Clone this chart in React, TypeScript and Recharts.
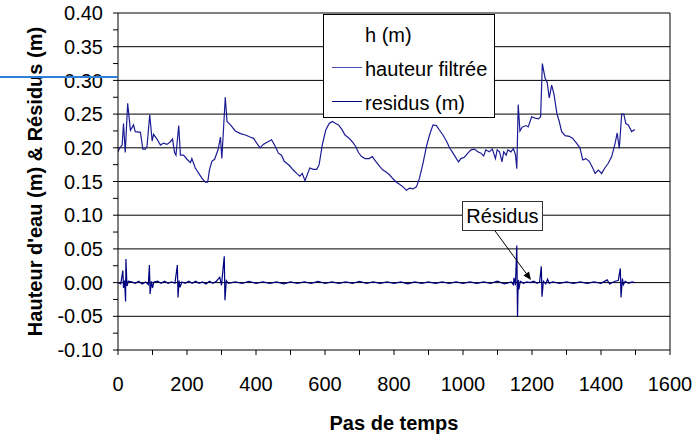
import { LineChart, Line, XAxis, YAxis, CartesianGrid, Legend, ReferenceLine } from 'recharts';

// time steps and filtered water height (m)
const hSteps = [
  0, 5, 12, 16, 21, 28, 36, 45, 50, 65, 72, 79, 84, 92, 99, 103, 113, 123, 132, 142,
  152, 158, 164, 168, 176, 181, 190, 200, 210, 214, 224, 234, 243, 253, 260, 265, 272, 280, 290, 297,
  301, 311, 316, 326, 340, 355, 369, 383, 393, 402, 412, 421, 431, 445, 453, 465, 474, 482, 489, 498,
  508, 518, 527, 534, 542, 550, 556, 566, 576, 583, 592, 602, 612, 621, 631, 639, 648, 658, 668, 679,
  689, 697, 706, 716, 728, 737, 747, 759, 768, 777, 787, 797, 807, 816, 826, 836, 845, 855, 865, 874,
  884, 894, 903, 913, 923, 932, 942, 952, 961, 971, 981, 987, 994, 1004, 1014, 1023, 1033, 1043, 1052, 1060,
  1066, 1076, 1085, 1094, 1099, 1106, 1113, 1118, 1125, 1130, 1139, 1146, 1152, 1156, 1160, 1165, 1172, 1183, 1189, 1199,
  1209, 1219, 1225, 1230, 1238, 1244, 1250, 1257, 1264, 1272, 1279, 1286, 1296, 1308, 1318, 1329, 1339, 1347, 1356, 1366,
  1376, 1383, 1392, 1402, 1411, 1421, 1431, 1441, 1447, 1453, 1460, 1466, 1472, 1479, 1489, 1498,
];
const hValues = [
  0.194, 0.2, 0.204, 0.236, 0.193, 0.266, 0.226, 0.234, 0.224, 0.223, 0.198, 0.198, 0.202, 0.249, 0.21, 0.22, 0.213, 0.204, 0.207, 0.205,
  0.209, 0.213, 0.193, 0.189, 0.233, 0.189, 0.189, 0.183, 0.178, 0.184, 0.17, 0.162, 0.155, 0.149, 0.149, 0.167, 0.18, 0.183, 0.197, 0.216,
  0.184, 0.275, 0.239, 0.234, 0.225, 0.221, 0.219, 0.216, 0.214, 0.207, 0.2, 0.205, 0.208, 0.212, 0.205, 0.192, 0.189, 0.18, 0.177, 0.173,
  0.167, 0.162, 0.158, 0.162, 0.151, 0.162, 0.17, 0.168, 0.168, 0.175, 0.204, 0.226, 0.236, 0.239, 0.236, 0.234, 0.228, 0.219, 0.215, 0.209,
  0.202, 0.193, 0.187, 0.184, 0.184, 0.187, 0.18, 0.172, 0.167, 0.164, 0.16, 0.154, 0.149, 0.146, 0.142, 0.137, 0.14, 0.139, 0.142, 0.155,
  0.177, 0.202, 0.219, 0.234, 0.233, 0.226, 0.219, 0.21, 0.2, 0.192, 0.184, 0.179, 0.184, 0.186, 0.192, 0.197, 0.198, 0.194, 0.192, 0.188,
  0.197, 0.194, 0.198, 0.184, 0.197, 0.194, 0.179, 0.194, 0.189, 0.197, 0.194, 0.199, 0.19, 0.169, 0.264, 0.225, 0.231, 0.233, 0.231, 0.246,
  0.244, 0.243, 0.246, 0.325, 0.303, 0.297, 0.274, 0.293, 0.279, 0.251, 0.239, 0.224, 0.218, 0.217, 0.214, 0.207, 0.2, 0.182, 0.184, 0.18,
  0.17, 0.162, 0.167, 0.162, 0.17, 0.177, 0.187, 0.207, 0.222, 0.199, 0.25, 0.25, 0.236, 0.234, 0.224, 0.227,
];

// residuals (m)
const rSteps = [
  0, 8, 14, 16, 19, 22, 23, 26, 30, 40, 50, 60, 70, 80, 88, 91, 93, 97, 100, 104,
  115, 125, 135, 145, 155, 165, 172, 174, 177, 180, 185, 195, 205, 215, 225, 235, 245, 255, 265, 275,
  285, 295, 300, 308, 310, 314, 320, 340, 360, 380, 400, 420, 440, 460, 480, 500, 520, 540, 560, 580,
  600, 620, 640, 660, 680, 700, 720, 740, 760, 780, 800, 820, 840, 860, 880, 900, 920, 940, 960, 980,
  1000, 1020, 1040, 1060, 1080, 1100, 1120, 1140, 1146, 1148, 1152, 1156, 1158, 1160, 1162, 1166, 1175, 1185, 1195, 1205,
  1215, 1222, 1227, 1229, 1233, 1240, 1245, 1250, 1260, 1280, 1300, 1320, 1340, 1360, 1380, 1400, 1418, 1425, 1440, 1450,
  1456, 1458, 1462, 1465, 1470, 1480, 1490, 1498,
];
const rValues = [
  0, -0.002, 0.018, -0.008, 0.003, -0.028, 0.035, -0.005, 0.002, 0.001, -0.001, 0.002, -0.002, 0.001, -0.003, 0.026, -0.017, 0.002, -0.008, 0.001,
  0.002, -0.001, 0.002, -0.001, 0.001, -0.001, 0.026, -0.022, 0.003, -0.007, 0.001, -0.001, 0.002, -0.001, 0.002, -0.001, 0.001, -0.002, 0.002, -0.001,
  0.002, 0.008, -0.004, 0.039, -0.026, 0.003, -0.001, 0.001, -0.001, 0.002, -0.001, 0.001, -0.001, 0.001, -0.002, 0.001, -0.001, 0.001, -0.001, 0.002,
  -0.001, 0.001, -0.001, 0.001, -0.001, 0.002, -0.001, 0.001, -0.001, 0.001, -0.001, 0.001, -0.002, 0.001, -0.001, 0.001, -0.001, 0.001, -0.001, 0.001,
  -0.001, 0.001, -0.001, 0.001, -0.001, 0.002, -0.002, 0.001, -0.003, 0.007, -0.004, 0.055, -0.051, 0.004, -0.01, 0.002, -0.001, 0.001, 0, 0.002,
  -0.001, 0.001, 0.024, -0.021, 0.002, -0.002, 0.005, -0.001, 0.001, -0.001, 0.001, -0.001, 0.001, -0.001, 0.001, -0.001, 0.004, -0.002, 0.002, 0.003,
  0.021, -0.022, 0.006, -0.003, 0.002, -0.001, 0.001, 0,
];

const xTicks = [0, 100, 200, 300, 400, 500, 600, 700, 800, 900, 1000, 1100, 1200, 1300, 1400, 1500, 1600];
const yTicks = [
  -0.1, -0.075, -0.05, -0.025, 0, 0.025, 0.05, 0.075, 0.1, 0.125, 0.15, 0.175, 0.2, 0.225, 0.25, 0.275, 0.3, 0.325, 0.35, 0.375, 0.4,
];
const gridValues = [-0.05, 0, 0.05, 0.1, 0.15, 0.2, 0.25, 0.3, 0.35, 0.4];
const legendNames = ['h (m)', 'hauteur filtrée', 'residus (m)'];
const legendColors = ['none', '#4a4ab4', '#000080'];

const hauteurData = hSteps.map((t, i) => ({ t, v: hValues[i] }));
const residusData = rSteps.map((t, i) => ({ t, v: rValues[i] }));

const FONT = '"Liberation Sans", Arial, sans-serif';
const FS = 20;

const LegendBox = () => (
  <div
    style={{
      position: 'relative',
      width: 172,
      height: 104,
      boxSizing: 'border-box',
      border: '1px solid #000',
      background: '#fff',
      fontFamily: FONT,
      fontSize: FS,
      color: '#000',
    }}
  >
    {legendNames.map((name, i) => (
      <div key={name}>
        {legendColors[i] !== 'none' && (
          <div
            style={{
              position: 'absolute',
              left: 8,
              top: 18 + i * 34,
              width: 30,
              height: 1,
              background: legendColors[i],
            }}
          />
        )}
        <div style={{ position: 'absolute', left: 41, top: 9 + i * 34, lineHeight: '22px', whiteSpace: 'nowrap' }}>{name}</div>
      </div>
    ))}
  </div>
);

const Arrow = (props: any) => {
  const { x1, y1, x2, y2 } = props;
  const ang = Math.atan2(y2 - y1, x2 - x1);
  const len = 8;
  const w = 3.5;
  const bx = x2 - len * Math.cos(ang);
  const by = y2 - len * Math.sin(ang);
  const px = -Math.sin(ang) * w;
  const py = Math.cos(ang) * w;
  return (
    <g>
      <line x1={x1} y1={y1} x2={bx} y2={by} stroke="#000" strokeWidth={1} />
      <polygon points={`${x2},${y2} ${bx + px},${by + py} ${bx - px},${by - py}`} fill="#000" />
    </g>
  );
};

export default function App() {
  return (
    <div style={{ position: 'absolute', left: 0, top: 0, width: 697, height: 437, background: '#fff', fontFamily: FONT }}>
      <LineChart width={697} height={437} margin={{ top: 13, right: 27, bottom: 0, left: 0 }}>
        <CartesianGrid
          stroke="#000"
          horizontalCoordinatesGenerator={({ yAxis, offset }: any) =>
            gridValues.map((v) =>
              yAxis && typeof yAxis.scale === 'function'
                ? yAxis.scale(v)
                : offset.top + ((0.4 - v) / 0.5) * offset.height
            )
          }
          verticalCoordinatesGenerator={({ xAxis, offset }: any) => [
            xAxis && typeof xAxis.scale === 'function' ? xAxis.scale(1600) : offset.left + offset.width,
          ]}
        />
        <XAxis
          type="number"
          dataKey="t"
          domain={[0, 1600]}
          ticks={xTicks}
          interval={0}
          allowDataOverflow
          height={87}
          tickSize={5}
          tickMargin={22}
          stroke="#000"
          tick={{ fill: '#000', fontSize: FS, fontFamily: FONT }}
          tickFormatter={(v: number) => (v % 200 === 0 ? String(v) : '')}
          label={{
            content: (p: any) => {
              const vb = p.viewBox || { x: 118, y: 350, width: 552 };
              return (
                <text x={vb.x + vb.width / 2} y={vb.y + 80} textAnchor="middle" fontSize={FS} fontWeight="bold" fontFamily={FONT} fill="#000">
                  Pas de temps
                </text>
              );
            },
          }}
        />
        <YAxis
          type="number"
          domain={[-0.1, 0.4]}
          ticks={yTicks}
          interval={0}
          allowDataOverflow
          width={118}
          tickSize={5}
          tickMargin={10}
          stroke="#000"
          tick={{ fill: '#000', fontSize: FS, fontFamily: FONT }}
          tickFormatter={(v: number) => (Math.round(v * 1000) % 50 === 0 ? v.toFixed(2) : '')}
          label={{
            content: (p: any) => {
              const vb = p.viewBox || { x: 0, y: 13, width: 118, height: 337 };
              const cx = 42;
              const cy = vb.y + vb.height / 2;
              return (
                <text
                  x={cx}
                  y={cy}
                  transform={`rotate(-90, ${cx}, ${cy})`}
                  textAnchor="middle"
                  fontSize={FS}
                  fontWeight="bold"
                  fontFamily={FONT}
                  fill="#000"
                >
                  Hauteur d'eau (m) &amp; Résidus (m)
                </text>
              );
            },
          }}
        />
        <Legend
          layout="vertical"
          align="center"
          verticalAlign="middle"
          wrapperStyle={{ left: 323, top: 14, width: 172, height: 104 }}
          content={() => <LegendBox />}
        />
        <Line
          data={hauteurData}
          dataKey="v"
          name="hauteur filtrée"
          stroke="#1c1c94"
          strokeWidth={1.2}
          dot={false}
          isAnimationActive={false}
        />
        <Line
          data={residusData}
          dataKey="v"
          name="residus (m)"
          stroke="#000080"
          strokeWidth={1.2}
          dot={false}
          isAnimationActive={false}
        />
        <ReferenceLine
          segment={[
            { x: 1093, y: 0.0766 },
            { x: 1197, y: 0.004 },
          ]}
          shape={Arrow}
        />
      </LineChart>
      {/* annotation box */}
      <div
        style={{
          position: 'absolute',
          left: 462,
          top: 201,
          width: 81,
          height: 30,
          boxSizing: 'border-box',
          border: '1px solid #333',
          background: '#fff',
          fontSize: FS,
          lineHeight: '28px',
          textAlign: 'center',
          color: '#000',
        }}
      >
        Résidus
      </div>
      {/* stray line left of the axis */}
      <div style={{ position: 'absolute', left: 0, top: 76, width: 118, height: 2, background: '#2f7fd8' }} />
    </div>
  );
}
